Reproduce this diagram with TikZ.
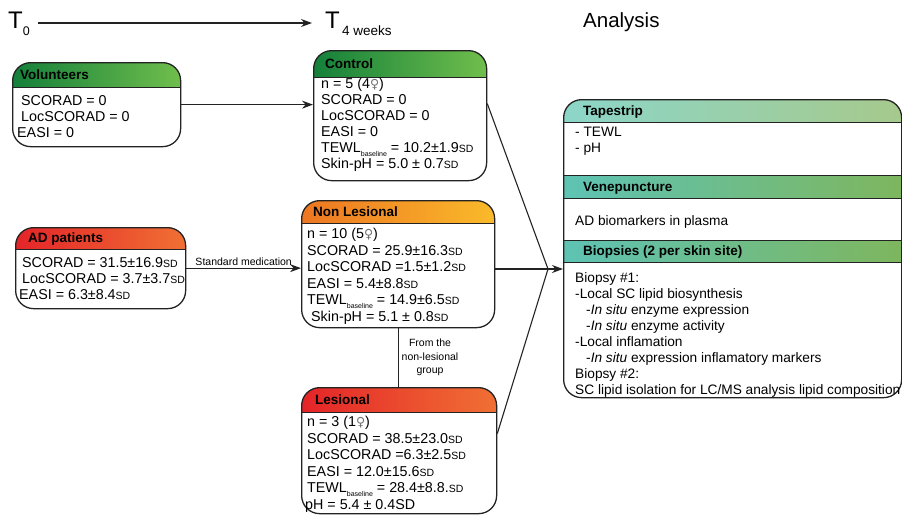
\documentclass[tikz,border=0pt]{standalone}
\usepackage{fontspec}
\setmainfont{Liberation Sans}
\newfontfamily\symbfont{DejaVu Sans}
\usetikzlibrary{arrows.meta,positioning}

% couleurs des bandeaux
\definecolor{trait}{RGB}{35,35,35}
\definecolor{vertA}{RGB}{20,128,58}
\definecolor{vertB}{RGB}{112,190,76}
\definecolor{rougeA}{RGB}{228,36,40}
\definecolor{rougeB}{RGB}{240,112,52}
\definecolor{orangeA}{RGB}{237,118,34}
\definecolor{orangeB}{RGB}{250,186,42}
\definecolor{turqA}{RGB}{140,214,201}
\definecolor{turqB}{RGB}{166,201,140}
\definecolor{tealA}{RGB}{94,195,180}
\definecolor{tealB}{RGB}{126,182,94}

\newcommand{\sdev}{{\fontsize{10.5}{12}\selectfont SD}}
\newcommand{\fem}{{\symbfont\fontsize{12.5}{14}\selectfont\textcolor{black!55}{♀}}}
\newcommand{\basal}{\raisebox{-4pt}{\fontsize{7}{8}\selectfont baseline}}

\begin{document}
\begin{tikzpicture}[
    x=1pt, y=-1pt,  % on compte en pixels, y vers le bas
    entete/.store in=\entete, entete=25pt,
    % boîte arrondie avec un bandeau en dégradé
    boite/.style 2 args={draw=trait, line width=1.3pt, rounded corners=18pt,
        anchor=north west, inner sep=0pt,
        path picture={
            \shade[sharp corners, left color=#1, right color=#2]
                (path picture bounding box.north west) rectangle
                ([yshift=-\entete]path picture bounding box.north east);
            \draw[sharp corners, trait, line width=1.3pt]
                ([yshift=-\entete]path picture bounding box.north west) --
                ([yshift=-\entete]path picture bounding box.north east);
        }},
    titre/.style={anchor=west, inner sep=0pt, text height=9.7pt, text depth=0pt,
        font=\bfseries\fontsize{13.5}{15}\selectfont},
    corps/.style={anchor=north west, inner sep=0pt, align=left,
        font=\fontsize{14.3}{16}\selectfont},
    petit/.style={font=\fontsize{10.5}{13.5}\selectfont, inner sep=1pt},
    fleche/.style={draw=trait, line width=1.1pt, -{Stealth[length=11pt,width=8pt]}},
    lien/.style={draw=trait, line width=1.1pt}
]
\useasboundingbox (0,0) rectangle (902,514);

% Axe du temps
\node[anchor=base west, inner sep=0pt] (t0) at (8,28)
    {\fontsize{24}{26}\selectfont T\raisebox{-7pt}{\fontsize{12.5}{14}\selectfont 0}};
\node[anchor=base west, inner sep=0pt] (t4) at (325,28)
    {\fontsize{24}{26}\selectfont T\raisebox{-7pt}{\fontsize{13.5}{14}\selectfont\,4 weeks}};
\node[anchor=west, inner sep=0pt, text height=15pt, text depth=0pt] (analysis) at (583,20)
    {\fontsize{20.5}{22}\selectfont Analysis};
\draw[fleche] ([xshift=8pt, yshift=5pt]t0.base east) -- ([xshift=-13pt, yshift=5pt]t4.base west);

% Groupes de départ
\node[boite={vertA}{vertB}, entete=25pt, minimum width=168pt, minimum height=84pt]
    (vol) at (12,62) {};
\node[titre] (vol-t) at ([xshift=8pt, yshift=-12.5pt]vol.north west) {Volunteers};
\node[corps] (vol-c) at ([xshift=9pt, yshift=-33pt]vol.north west)
    {SCORAD = 0\\
     LocSCORAD = 0\\
     \hspace*{-4pt}EASI = 0};

\node[boite={rougeA}{rougeB}, entete=22pt, minimum width=170pt, minimum height=81pt]
    (ad) at (15,227) {};
\node[titre] (ad-t) at ([xshift=13pt, yshift=-11pt]ad.north west) {AD patients};
\node[corps] (ad-c) at ([xshift=7pt, yshift=-30pt]ad.north west)
    {SCORAD = 31.5±16.9\sdev\\
     LocSCORAD = 3.7±3.7\sdev\\
     \hspace*{-3pt}EASI = 6.3±8.4\sdev};

% Groupes à T 4 semaines
\node[boite={vertA}{vertB}, entete=27pt, minimum width=173pt, minimum height=130pt]
    (ctrl) at (313,50) {};
\node[titre] (ctrl-t) at ([xshift=12pt, yshift=-13.5pt]ctrl.north west) {Control};
\node[corps] (ctrl-c) at ([xshift=8pt, yshift=-28pt]ctrl.north west)
    {n = 5 (4\fem)\\
     SCORAD = 0\\
     LocSCORAD = 0\\
     EASI = 0\\
     TEWL\basal{} = 10.2±1.9\sdev\\
     Skin-pH = 5.0 ± 0.7\sdev};

\node[boite={orangeA}{orangeB}, entete=23pt, minimum width=193pt, minimum height=127pt]
    (nonles) at (301,200) {};
\node[titre] (nonles-t) at ([xshift=12pt, yshift=-11.5pt]nonles.north west) {Non Lesional};
\node[corps, font=\fontsize{14.3}{16.5}\selectfont] (nonles-c) at ([xshift=6pt, yshift=-28pt]nonles.north west)
    {n = 10 (5\fem)\\
     SCORAD = 25.9±16.3\sdev\\
     LocSCORAD =1.5±1.2\sdev\\
     EASI = 5.4±8.8\sdev\\
     TEWL\basal{} = 14.9±6.5\sdev\\
     \hspace*{4pt}Skin-pH = 5.1 ± 0.8\sdev};

\node[boite={rougeA}{rougeB}, entete=25pt, minimum width=195pt, minimum height=126pt]
    (les) at (301,387) {};
\node[titre] (les-t) at ([xshift=14pt, yshift=-12.5pt]les.north west) {Lesional};
\node[corps, font=\fontsize{14.3}{16.5}\selectfont] (les-c) at ([xshift=6pt, yshift=-29pt]les.north west)
    {n = 3 (1\fem)\\
     SCORAD = 38.5±23.0\sdev\\
     LocSCORAD =6.3±2.5\sdev\\
     EASI = 12.0±15.6\sdev\\
     TEWL\basal{} = 28.4±8.8.\sdev\\
     \hspace*{-2pt}pH = 5.4 ± 0.4SD};

% Analyse
\node[draw=trait, line width=1.3pt, rounded corners=18pt, anchor=north west, inner sep=0pt,
      minimum width=338pt, minimum height=298pt,
      path picture={
        \shade[sharp corners, left color=turqA, right color=turqB]
            (path picture bounding box.north west) rectangle
            ([yshift=-23pt]path picture bounding box.north east);
        \foreach \haut/\bas in {76/99, 141/163}{
            \shade[sharp corners, left color=tealA, right color=tealB]
                ([yshift=-\haut pt]path picture bounding box.north west) rectangle
                ([yshift=-\bas pt]path picture bounding box.north east);
            \draw[sharp corners, trait, line width=1.3pt]
                ([yshift=-\haut pt]path picture bounding box.north west) --
                ([yshift=-\haut pt]path picture bounding box.north east);
            \draw[sharp corners, trait, line width=1.3pt]
                ([yshift=-\bas pt]path picture bounding box.north west) --
                ([yshift=-\bas pt]path picture bounding box.north east);
        }
        \draw[sharp corners, trait, line width=1.3pt]
            ([yshift=-23pt]path picture bounding box.north west) --
            ([yshift=-23pt]path picture bounding box.north east);
      }] (analyse) at (563,99) {};
\node[titre] (tape-t) at ([xshift=20pt, yshift=-11.5pt]analyse.north west) {Tapestrip};
\node[corps, font=\fontsize{13.7}{16}\selectfont] (tape-c) at ([xshift=12pt, yshift=-28pt]analyse.north west)
    {- TEWL\\
     - pH};
\node[titre] (vene-t) at ([xshift=20pt, yshift=-87.5pt]analyse.north west) {Venepuncture};
\node[corps, font=\fontsize{13.7}{16}\selectfont] (vene-c) at ([xshift=12pt, yshift=-116pt]analyse.north west)
    {AD biomarkers in plasma};
\node[titre] (biop-t) at ([xshift=20pt, yshift=-152pt]analyse.north west) {Biopsies (2 per skin site)};
\node[corps, font=\fontsize{13.7}{16}\selectfont] (biop-c) at ([xshift=12pt, yshift=-173pt]analyse.north west)
    {Biopsy \#1:\\
     -Local SC lipid biosynthesis\\
     \hspace*{11pt}-\textit{In situ} enzyme expression\\
     \hspace*{11pt}-\textit{In situ} enzyme activity\\
     -Local inflamation\\
     \hspace*{11pt}-\textit{In situ} expression inflamatory markers\\
     Biopsy \#2:\\
     SC lipid isolation for LC/MS analysis lipid composition};

% Liaisons
\coordinate (conv) at (548,269);
\draw[fleche] (vol.east) -- (vol.east -| ctrl.west);
\draw[fleche] (ad.east) -- (ad.east -| nonles.west)
    node[midway, above=1pt, petit] {Standard medication};
\draw[lien] (nonles.south) -- (nonles.south |- les.north)
    node[midway, right=2pt, petit, align=center] {From the\\non-lesional\\group};
\draw[lien] ([yshift=12pt]ctrl.east) -- (conv);
\draw[lien] (nonles.east |- conv) -- (conv);
\draw[lien] ([yshift=17pt]les.east) -- (conv);
\draw[fleche] (conv) -- (conv -| analyse.west);
\end{tikzpicture}
\end{document}
